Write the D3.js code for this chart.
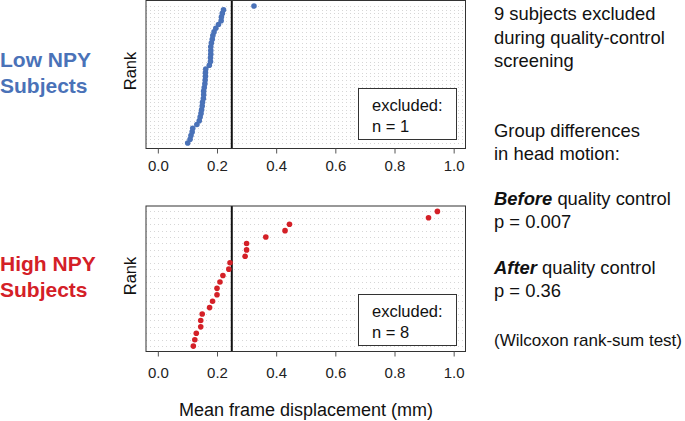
<!DOCTYPE html>
<html><head><meta charset="utf-8">
<script src="https://cdn.jsdelivr.net/npm/d3@7"></script>
<style>body{margin:0;background:#fff}svg{display:block;font-family:"Liberation Sans",Arial,sans-serif}</style>
</head><body><svg id="c" width="685" height="421"></svg>
<script>
// Low NPY subjects: mean frame displacement sorted ascending (rank 1 = lowest)
const lowValues = [0.101,0.109,0.112,0.116,0.118,0.132,0.140,0.143,0.146,0.148,0.150,0.151,0.154,0.155,0.155,0.157,0.159,0.160,0.161,0.161,0.162,0.174,0.178,0.178,0.179,0.179,0.179,0.181,0.184,0.186,0.190,0.196,0.205,0.214,0.215,0.218,0.222,0.325];
// High NPY subjects
const highValues = [0.120,0.125,0.130,0.145,0.145,0.150,0.175,0.185,0.200,0.200,0.210,0.220,0.240,0.244,0.295,0.300,0.300,0.365,0.430,0.445,0.915,0.945];
const xTicks = [0.0,0.2,0.4,0.6,0.8,1.0];
const threshold = 0.25;
const groupLabels = [["Low NPY","Subjects"],["High NPY","Subjects"]];
const excludedLabels = ["n = 1","n = 8"];
const noteLines = ["9 subjects excluded","during quality-control","screening"];

const svg = d3.select("#c");
const x = d3.scaleLinear().domain([-0.04,1.04]).range([146,465.5]);
const panels = [
  {vals: lowValues, top: 0.5, bottom: 148.5, color: "#4a72b8", labelY: 67, rankY: 71, tickY: 171, boxY: 88.5, lab: 0},
  {vals: highValues, top: 206, bottom: 351.5, color: "#d42027", labelY: 271, rankY: 276, tickY: 378, boxY: 294.5, lab: 1}
];

panels.forEach(p => {
  const n = p.vals.length;
  const pad = 0.04*(n-1);
  const y = d3.scaleLinear().domain([1-pad, n+pad]).range([p.bottom, p.top]);
  const g = svg.append("g");
  const ranks = d3.range(1, n+1);
  g.selectAll("line.grid").data(ranks).join("line")
    .attr("x1", x.range()[0]).attr("x2", x.range()[1])
    .attr("y1", d => Math.round(y(d))+0.5).attr("y2", d => Math.round(y(d))+0.5)
    .attr("stroke", "#d6d6d6").attr("stroke-width", 1).attr("stroke-dasharray", "1,3");
  g.append("line").attr("x1", x(threshold)).attr("x2", x(threshold))
    .attr("y1", p.top).attr("y2", p.bottom).attr("stroke", "#111").attr("stroke-width", 2);
  g.selectAll("circle").data(p.vals).join("circle")
    .attr("cx", d => x(d)).attr("cy", (d,i) => y(i+1)).attr("r", 2.8).attr("fill", p.color);
  g.append("rect").attr("x", x.range()[0]).attr("y", p.top).attr("width", x.range()[1]-x.range()[0])
    .attr("height", p.bottom-p.top).attr("fill", "none").attr("stroke", "#333").attr("stroke-width", 1);
  // axis
  const ax = d3.axisBottom(x).tickValues(xTicks).tickFormat(d3.format(".1f")).tickSize(5).tickPadding(6);
  const axg = g.append("g").attr("transform", `translate(0,${p.bottom})`).call(ax);
  axg.select(".domain").remove();
  axg.selectAll(".tick line").attr("stroke", "#555");
  axg.selectAll(".tick text").attr("font-size", 15).attr("fill", "#222")
    .attr("font-family", '"Liberation Sans",Arial,sans-serif').attr("dy", null).attr("y", p.tickY - p.bottom);
  // Rank label
  g.append("text").attr("transform", `translate(136,${p.rankY}) rotate(-90)`)
    .attr("text-anchor", "middle").attr("font-size", 16.5).attr("fill", "#111").text("Rank");
  // group label
  groupLabels[p.lab].forEach((t,i) => {
    g.append("text").attr("x", 0).attr("y", p.labelY + i*26).attr("font-size", 21)
      .attr("font-weight", "bold").attr("fill", p.color).text(t);
  });
  // excluded box
  g.append("rect").attr("x", 358.5).attr("y", p.boxY).attr("width", 98).attr("height", 51)
    .attr("fill", "#fff").attr("stroke", "#333").attr("stroke-width", 1);
  g.append("text").attr("x", 372).attr("y", p.boxY + 22).attr("font-size", 16.5).attr("fill", "#111").text("excluded:");
  g.append("text").attr("x", 372).attr("y", p.boxY + 43).attr("font-size", 16.5).attr("fill", "#111").text(excludedLabels[p.lab]);
});

svg.append("text").attr("x", 306).attr("y", 416).attr("text-anchor", "middle")
  .attr("font-size", 18).attr("fill", "#111").text("Mean frame displacement (mm)");

const rx = 494, fs = 18.4, col = "#111";
noteLines.forEach((t,i) => svg.append("text").attr("x", rx).attr("y", 20 + i*23.5).attr("font-size", fs).attr("fill", col).text(t));
svg.append("text").attr("x", rx).attr("y", 137).attr("font-size", fs).attr("fill", col).text("Group differences");
svg.append("text").attr("x", rx).attr("y", 160).attr("font-size", fs).attr("fill", col).text("in head motion:");
const t1 = svg.append("text").attr("x", rx).attr("y", 205).attr("font-size", fs).attr("fill", col);
t1.append("tspan").attr("font-weight", "bold").attr("font-style", "italic").text("Before");
t1.append("tspan").text(" quality control");
svg.append("text").attr("x", rx).attr("y", 228).attr("font-size", fs).attr("fill", col).text("p = 0.007");
const t2 = svg.append("text").attr("x", rx).attr("y", 274).attr("font-size", fs).attr("fill", col);
t2.append("tspan").attr("font-weight", "bold").attr("font-style", "italic").text("After");
t2.append("tspan").text(" quality control");
svg.append("text").attr("x", rx).attr("y", 297).attr("font-size", fs).attr("fill", col).text("p = 0.36");
svg.append("text").attr("x", rx).attr("y", 346).attr("font-size", 17).attr("fill", col).text("(Wilcoxon rank-sum test)");
</script></body></html>
